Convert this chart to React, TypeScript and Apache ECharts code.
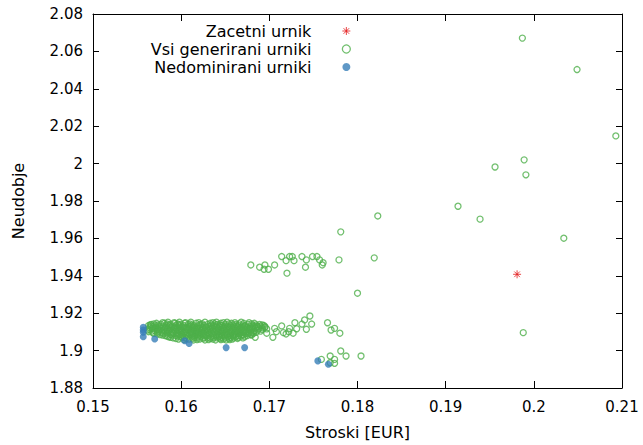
import React, { useEffect, useRef } from "react";
import * as echarts from "echarts";

const xTicks = { min: 0.15, max: 0.21, interval: 0.01 };
const yTicks = { min: 1.88, max: 2.08, interval: 0.02 };

const seriesNames = ["Zacetni urnik", "Vsi generirani urniki", "Nedominirani urniki"];
const xName = "Stroski [EUR]";
const yName = "Neudobje";

const startPoint: number[][] = [[0.1981, 1.9408]];

const clusterPoints: number[][] = [
  [0.1585, 1.9152], [0.1598, 1.9152], [0.1611, 1.9152], [0.1627, 1.9152], [0.164, 1.9152], [0.1652, 1.9152], [0.1668, 1.9152],
  [0.1579, 1.9149], [0.1592, 1.9149], [0.1605, 1.9149], [0.162, 1.9149], [0.1636, 1.9149], [0.1648, 1.9149], [0.1661, 1.9149], [0.1677, 1.9149],
  [0.1572, 1.9146], [0.1581, 1.9146], [0.1593, 1.9146], [0.1604, 1.9146], [0.1617, 1.9146], [0.1633, 1.9146], [0.1645, 1.9146], [0.1657, 1.9146], [0.1671, 1.9146], [0.1683, 1.9146],
  [0.1569, 1.9143], [0.1584, 1.9143], [0.1596, 1.9143], [0.161, 1.9143], [0.1624, 1.9143], [0.1638, 1.9143], [0.1654, 1.9143], [0.1666, 1.9143], [0.168, 1.9143],
  [0.1566, 1.914], [0.1577, 1.914], [0.1588, 1.914], [0.1599, 1.914], [0.1608, 1.914], [0.1622, 1.914], [0.163, 1.914], [0.1641, 1.914], [0.165, 1.914], [0.1662, 1.914], [0.1676, 1.914], [0.1689, 1.914],
  [0.1565, 1.9137], [0.1574, 1.9137], [0.1586, 1.9137], [0.1597, 1.9137], [0.1612, 1.9137], [0.162, 1.9137], [0.1634, 1.9137], [0.1644, 1.9137], [0.1659, 1.9137], [0.167, 1.9137], [0.1685, 1.9137], [0.1692, 1.9137],
  [0.1563, 1.9134], [0.1571, 1.9134], [0.1583, 1.9134], [0.1594, 1.9134], [0.1603, 1.9134], [0.1614, 1.9134], [0.1626, 1.9134], [0.1637, 1.9134], [0.1646, 1.9134], [0.1656, 1.9134], [0.1665, 1.9134], [0.1673, 1.9134], [0.1681, 1.9134], [0.1694, 1.9134],
  [0.1566, 1.9131], [0.1576, 1.9131], [0.1587, 1.9131], [0.1598, 1.9131], [0.1611, 1.9131], [0.1622, 1.9131], [0.1634, 1.9131], [0.164, 1.9131], [0.165, 1.9131], [0.1663, 1.9131], [0.1672, 1.9131], [0.1683, 1.9131], [0.169, 1.9131],
  [0.1568, 1.9128], [0.1579, 1.9128], [0.159, 1.9128], [0.1601, 1.9128], [0.1609, 1.9128], [0.1619, 1.9128], [0.1631, 1.9128], [0.1643, 1.9128], [0.1653, 1.9128], [0.166, 1.9128], [0.1669, 1.9128], [0.1678, 1.9128], [0.1686, 1.9128],
  [0.1571, 1.9125], [0.1582, 1.9125], [0.1593, 1.9125], [0.1604, 1.9125], [0.1613, 1.9125], [0.1627, 1.9125], [0.1638, 1.9125], [0.1646, 1.9125], [0.1655, 1.9125], [0.1664, 1.9125], [0.1673, 1.9125], [0.1681, 1.9125], [0.1695, 1.9125],
  [0.1564, 1.9122], [0.1574, 1.9122], [0.1585, 1.9122], [0.1596, 1.9122], [0.1606, 1.9122], [0.1615, 1.9122], [0.1624, 1.9122], [0.1635, 1.9122], [0.1648, 1.9122], [0.1658, 1.9122], [0.1667, 1.9122], [0.1675, 1.9122], [0.1684, 1.9122], [0.1692, 1.9122],
  [0.1567, 1.9119], [0.1577, 1.9119], [0.1588, 1.9119], [0.1598, 1.9119], [0.1609, 1.9119], [0.1618, 1.9119], [0.1632, 1.9119], [0.1642, 1.9119], [0.1653, 1.9119], [0.1661, 1.9119], [0.1669, 1.9119], [0.1678, 1.9119], [0.1688, 1.9119],
  [0.157, 1.9116], [0.1581, 1.9116], [0.1592, 1.9116], [0.16, 1.9116], [0.1612, 1.9116], [0.1621, 1.9116], [0.1629, 1.9116], [0.1639, 1.9116], [0.1651, 1.9116], [0.1663, 1.9116], [0.1671, 1.9116], [0.168, 1.9116], [0.1697, 1.9116],
  [0.1564, 1.9113], [0.1573, 1.9113], [0.1584, 1.9113], [0.1595, 1.9113], [0.1608, 1.9113], [0.1614, 1.9113], [0.1624, 1.9113], [0.1633, 1.9113], [0.1648, 1.9113], [0.1659, 1.9113], [0.1668, 1.9113], [0.1677, 1.9113], [0.1692, 1.9113],
  [0.1562, 1.911], [0.1575, 1.911], [0.1587, 1.911], [0.1597, 1.911], [0.1605, 1.911], [0.1617, 1.911], [0.1627, 1.911], [0.1636, 1.911], [0.1645, 1.911], [0.1655, 1.911], [0.1666, 1.911], [0.1674, 1.911], [0.1687, 1.911],
  [0.157, 1.9107], [0.1581, 1.9107], [0.1592, 1.9107], [0.16, 1.9107], [0.1614, 1.9107], [0.1623, 1.9107], [0.163, 1.9107], [0.164, 1.9107], [0.1649, 1.9107], [0.1658, 1.9107], [0.1663, 1.9107], [0.1672, 1.9107], [0.1683, 1.9107],
  [0.1567, 1.9104], [0.1578, 1.9104], [0.1589, 1.9104], [0.1602, 1.9104], [0.1611, 1.9104], [0.162, 1.9104], [0.1633, 1.9104], [0.1642, 1.9104], [0.1652, 1.9104], [0.1661, 1.9104], [0.167, 1.9104], [0.1679, 1.9104], [0.169, 1.9104],
  [0.1563, 1.9101], [0.1575, 1.9101], [0.1586, 1.9101], [0.1598, 1.9101], [0.1605, 1.9101], [0.1618, 1.9101], [0.1628, 1.9101], [0.1637, 1.9101], [0.1646, 1.9101], [0.1656, 1.9101], [0.1665, 1.9101], [0.1674, 1.9101], [0.1682, 1.9101],
  [0.1573, 1.9098], [0.1584, 1.9098], [0.1595, 1.9098], [0.1607, 1.9098], [0.1616, 1.9098], [0.1625, 1.9098], [0.1638, 1.9098], [0.1647, 1.9098], [0.1657, 1.9098], [0.1668, 1.9098], [0.1677, 1.9098], [0.1685, 1.9098],
  [0.1568, 1.9095], [0.1578, 1.9095], [0.159, 1.9095], [0.16, 1.9095], [0.1611, 1.9095], [0.162, 1.9095], [0.163, 1.9095], [0.1641, 1.9095], [0.1651, 1.9095], [0.1661, 1.9095], [0.1671, 1.9095], [0.168, 1.9095],
  [0.1569, 1.9092], [0.158, 1.9092], [0.1591, 1.9092], [0.1603, 1.9092], [0.1613, 1.9092], [0.1623, 1.9092], [0.1632, 1.9092], [0.1644, 1.9092], [0.1654, 1.9092], [0.1664, 1.9092], [0.1673, 1.9092], [0.1682, 1.9092],
  [0.1573, 1.9089], [0.1584, 1.9089], [0.1595, 1.9089], [0.1607, 1.9089], [0.1616, 1.9089], [0.1625, 1.9089], [0.1636, 1.9089], [0.1646, 1.9089], [0.1656, 1.9089], [0.1666, 1.9089], [0.1676, 1.9089],
  [0.1576, 1.9086], [0.1588, 1.9086], [0.1598, 1.9086], [0.161, 1.9086], [0.1618, 1.9086], [0.1628, 1.9086], [0.164, 1.9086], [0.1649, 1.9086], [0.1659, 1.9086], [0.1669, 1.9086], [0.1679, 1.9086],
  [0.1579, 1.9083], [0.159, 1.9083], [0.1601, 1.9083], [0.1612, 1.9083], [0.1621, 1.9083], [0.1632, 1.9083], [0.1643, 1.9083], [0.1652, 1.9083], [0.1661, 1.9083], [0.1671, 1.9083], [0.168, 1.9083],
  [0.1582, 1.908], [0.1594, 1.908], [0.1606, 1.908], [0.1615, 1.908], [0.1626, 1.908], [0.1637, 1.908], [0.1646, 1.908], [0.1656, 1.908], [0.1665, 1.908], [0.1675, 1.908],
  [0.1584, 1.9077], [0.1596, 1.9077], [0.1608, 1.9077], [0.1619, 1.9077], [0.1629, 1.9077], [0.164, 1.9077], [0.1649, 1.9077], [0.1659, 1.9077], [0.1668, 1.9077],
  [0.1586, 1.9074], [0.1599, 1.9074], [0.1612, 1.9074], [0.1622, 1.9074], [0.1634, 1.9074], [0.1643, 1.9074], [0.1653, 1.9074], [0.1662, 1.9074], [0.1672, 1.9074],
  [0.1588, 1.9071], [0.1601, 1.9071], [0.1615, 1.9071], [0.1626, 1.9071], [0.1637, 1.9071], [0.1646, 1.9071], [0.1656, 1.9071], [0.1665, 1.9071],
  [0.1591, 1.9068], [0.1604, 1.9068], [0.1618, 1.9068], [0.163, 1.9068], [0.1641, 1.9068], [0.165, 1.9068], [0.166, 1.9068], [0.167, 1.9068],
  [0.1594, 1.9065], [0.1606, 1.9065], [0.1613, 1.9065], [0.1625, 1.9065], [0.1633, 1.9065], [0.1644, 1.9065], [0.1654, 1.9065], [0.1664, 1.9065],
  [0.1597, 1.9062], [0.1609, 1.9062], [0.1621, 1.9062], [0.1636, 1.9062], [0.1648, 1.9062], [0.1658, 1.9062],
  [0.1603, 1.9059], [0.1618, 1.9059], [0.1631, 1.9059], [0.1645, 1.9059], [0.1655, 1.9059],
  [0.1614, 1.9057], [0.1627, 1.9057], [0.1639, 1.9057], [0.1651, 1.9057],
];

const tailPoints: number[][] = [
  [0.1746, 1.9185], [0.174, 1.9164], [0.1729, 1.9149], [0.1737, 1.9142], [0.1748, 1.9142],
  [0.1714, 1.9132], [0.1723, 1.9119], [0.1731, 1.9117], [0.1742, 1.9114], [0.1706, 1.9119],
  [0.1708, 1.9101], [0.1716, 1.9096], [0.1722, 1.9101], [0.1727, 1.9093], [0.1695, 1.9128],
  [0.1697, 1.9093], [0.1704, 1.9071], [0.1719, 1.9089], [0.1687, 1.9128], [0.1684, 1.9071],
  [0.1766, 1.9149], [0.177, 1.911], [0.1774, 1.9119], [0.178, 1.9093],
  [0.1781, 1.8998], [0.1787, 1.8971], [0.1804, 1.8971], [0.1769, 1.8971], [0.1774, 1.8953],
  [0.1759, 1.8953], [0.1769, 1.8935], [0.1774, 1.8932],
];

const upperPoints: number[][] = [
  [0.1679, 1.9458], [0.1689, 1.9446], [0.1695, 1.9458], [0.1694, 1.9435], [0.1699, 1.9435],
  [0.1706, 1.9458], [0.1714, 1.9503], [0.1719, 1.9481], [0.1723, 1.9503], [0.1726, 1.9503],
  [0.1728, 1.9481], [0.172, 1.9414], [0.1737, 1.9503], [0.1742, 1.9485], [0.1741, 1.9446],
  [0.1749, 1.9503], [0.1754, 1.9503], [0.1757, 1.9485], [0.1761, 1.947], [0.176, 1.9458],
  [0.1779, 1.9485], [0.1819, 1.9496], [0.18, 1.9307],
];

const outlierPoints: number[][] = [
  [0.1987, 2.0671], [0.2049, 2.0503], [0.2093, 2.0148], [0.1989, 2.002], [0.1956, 1.9982],
  [0.1991, 1.994], [0.1914, 1.9772], [0.1939, 1.9703], [0.2034, 1.9601], [0.1988, 1.9096],
  [0.1823, 1.972], [0.1781, 1.9635],
];

const nondominatedPoints: number[][] = [
  [0.1557, 1.9125], [0.1557, 1.911], [0.1557, 1.9098], [0.1557, 1.9074], [0.157, 1.9062],
  [0.1604, 1.9053], [0.1609, 1.9038], [0.1651, 1.9016], [0.1672, 1.9016], [0.1755, 1.8945],
  [0.1767, 1.8927],
];

const RED = "#e41a1c";
const GREEN = "#4daf4a";
const BLUE = "#377eb8";
const FONT = "DejaVu Sans";
const STAR = "path://M0,5L10,5M5,0L5,10M1.5,1.5L8.5,8.5M8.5,1.5L1.5,8.5";

export default function App() {
  const ref = useRef<HTMLDivElement>(null);
  useEffect(() => {
    if (!ref.current) return;
    const chart = echarts.init(ref.current, null, { renderer: "svg" });
    const allGenerated = [...clusterPoints, ...tailPoints, ...upperPoints, ...outlierPoints];
    const axisLine = { show: true, lineStyle: { color: "#000", width: 1 } };
    const xBase = {
      type: "value" as const,
      min: xTicks.min,
      max: xTicks.max,
      interval: xTicks.interval,
      axisLine,
      splitLine: { show: false },
      axisTick: { show: true, inside: true, length: 7, lineStyle: { color: "#000" } },
    };
    const yBase = {
      type: "value" as const,
      min: yTicks.min,
      max: yTicks.max,
      interval: yTicks.interval,
      axisLine,
      splitLine: { show: false },
      axisTick: { show: true, inside: true, length: 6, lineStyle: { color: "#000" } },
    };
    chart.setOption({
      animation: false,
      backgroundColor: "#fff",
      grid: { left: 93, right: 21, top: 14, bottom: 57, containLabel: false },
      legend: {
        orient: "vertical",
        align: "right",
        right: 292,
        top: 23,
        padding: 0,
        itemGap: 2,
        itemWidth: 8,
        itemHeight: 8,
        selectedMode: false,
        textStyle: { fontFamily: FONT, fontSize: 16, color: "#000", padding: [0, 26, 0, 0] },
        data: [
          { name: seriesNames[0], icon: STAR, itemStyle: { color: "rgba(0,0,0,0)", borderColor: RED, borderWidth: 1 } },
          { name: seriesNames[1], icon: "circle", itemStyle: { color: "rgba(0,0,0,0)", borderColor: GREEN, borderWidth: 1.3 } },
          { name: seriesNames[2], icon: "circle", itemStyle: { color: BLUE, borderWidth: 0 } },
        ],
      },
      xAxis: [
        {
          ...xBase,
          position: "bottom",
          name: xName,
          nameLocation: "middle",
          nameGap: 36,
          nameTextStyle: { fontFamily: FONT, fontSize: 16, color: "#000" },
          axisLabel: { show: true, margin: 11, fontFamily: FONT, fontSize: 15, color: "#000" },
        },
        { ...xBase, position: "top", axisLabel: { show: false } },
      ],
      yAxis: [
        {
          ...yBase,
          position: "left",
          name: yName,
          nameLocation: "middle",
          nameRotate: 90,
          nameGap: 67,
          nameTextStyle: { fontFamily: FONT, fontSize: 16, color: "#000" },
          axisLabel: { show: true, margin: 10, fontFamily: FONT, fontSize: 15, color: "#000" },
        },
        { ...yBase, position: "right", axisLabel: { show: false } },
      ],
      series: [
        {
          name: seriesNames[0],
          type: "scatter",
          data: startPoint,
          symbol: STAR,
          symbolSize: 8,
          itemStyle: { color: "rgba(0,0,0,0)", borderColor: RED, borderWidth: 1 },
          emphasis: { disabled: true },
        },
        {
          name: seriesNames[1],
          type: "scatter",
          data: allGenerated,
          symbol: "circle",
          symbolSize: 6,
          itemStyle: { color: "rgba(0,0,0,0)", borderColor: GREEN, borderWidth: 1.3 },
          emphasis: { disabled: true },
        },
        {
          name: seriesNames[2],
          type: "scatter",
          data: nondominatedPoints,
          symbol: "circle",
          symbolSize: 7,
          itemStyle: { color: BLUE },
          emphasis: { disabled: true },
        },
      ],
    });
    return () => chart.dispose();
  }, []);
  return (
    <div
      ref={ref}
      style={{ position: "fixed", left: 0, top: 0, width: 643, height: 445 }}
    />
  );
}
